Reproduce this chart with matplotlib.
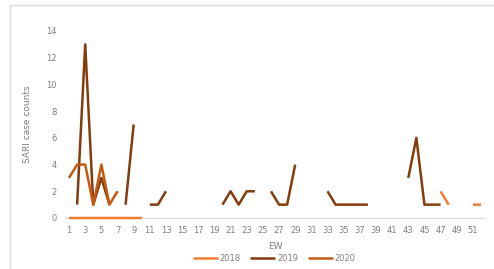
"""
SARI case counts by epidemiological week, 2018-2020.
"""
import numpy as np
import matplotlib.pyplot as plt
from matplotlib.patches import Rectangle

nan = np.nan

# Epidemiological weeks 1..52
weeks = list(range(1, 53))

# Weekly SARI counts (nan = no data)
cases_2018 = [0, 0, 0, 0, 0, 0, 0, 0, 0, 0] + [nan] * 36 + [2, 1, nan, nan, 1, 1]
cases_2019 = [nan, 1, 13, 1, 3, 1, nan, 1, 7, nan,
              1, 1, 2, nan, nan, nan, nan, nan, nan, 1,
              2, 1, 2, 2, nan, 2, 1, 1, 4, nan,
              nan, nan, 2, 1, 1, 1, 1, 1, nan, nan,
              nan, nan, 3, 6, 1, 1, 1, nan, nan, nan,
              nan, nan]
cases_2020 = [3, 4, 4, 1, 4, 1, 2] + [nan] * 45

series = [("2018", cases_2018, "#ED7D31"),
          ("2019", cases_2019, "#843C0C"),
          ("2020", cases_2020, "#C55A11")]

fig = plt.figure(figsize=(4.94, 2.69), dpi=100)
ax = fig.add_axes([0.1316, 0.1896, 0.8502, 0.6952])

for label, values, color in series:
    ax.plot(weeks, values, color=color, lw=1.8, label=label,
            solid_capstyle='butt', clip_on=False, zorder=3)

# Excel-like styling
text_color = '#7f7f7f'
ax.set_xlim(0.5, 52.5)
ax.set_ylim(0, 14)
ax.set_yticks(range(0, 15, 2))
ax.set_xticks(range(1, 53, 2))
ax.tick_params(axis='both', length=0, labelsize=6, colors=text_color, pad=6)
for side in ['top', 'right', 'left']:
    ax.spines[side].set_visible(False)
ax.spines['bottom'].set_color('#d9d9d9')
ax.spines['bottom'].set_linewidth(0.8)
ax.spines['bottom'].set_zorder(1)

ax.set_xlabel('EW', fontsize=6.5, color=text_color, labelpad=5)
ax.set_ylabel('SARI case counts', fontsize=6.5, color=text_color, labelpad=10)

fig.legend(loc='lower center', bbox_to_anchor=(0.555, -0.005), ncol=3,
           frameon=False, fontsize=6, labelcolor=text_color,
           handlelength=3, columnspacing=1.2, handletextpad=0.2)

# Chart area border
fig.patches.append(Rectangle((10 / 494, -0.01), 1.0, 1 - 5 / 269 + 0.01,
                             transform=fig.transFigure, fill=False,
                             edgecolor='#d9d9d9', lw=1.0))

fig.savefig('out.png', dpi=100, facecolor='white')
plt.close(fig)
